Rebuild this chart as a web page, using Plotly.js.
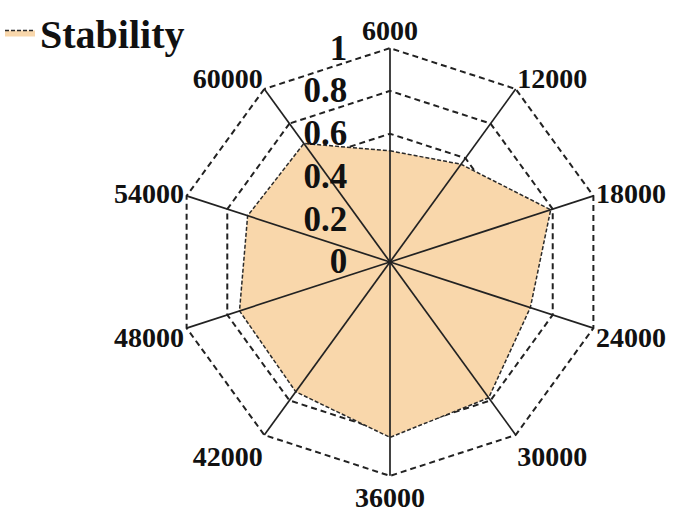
<!DOCTYPE html>
<html>
<head>
<meta charset="utf-8">
<script src="https://cdn.plot.ly/plotly-3.0.1.min.js"></script>
<style>
  html, body { margin: 0; padding: 0; background: #fff; }
  #chart { width: 685px; height: 519px; }
</style>
</head>
<body>
<div id="chart"></div>
<script>
// categories round the radar, clockwise from the top
var categories = ["6000", "12000", "18000", "24000", "30000", "36000", "42000", "48000", "54000", "60000"];
// stability value read for each category
var stability = [0.52, 0.565, 0.79, 0.69, 0.785, 0.82, 0.75, 0.74, 0.70, 0.685];
var radialTicks = [0, 0.2, 0.4, 0.6, 0.8, 1];
var radialTickText = ["0", "0.2", "0.4", "0.6", "0.8", "1"];

var serif = "Liberation Serif, Times New Roman, serif";

// closed polygon for the filled area
var trace = {
  type: "scatterpolar",
  r: stability.concat([stability[0]]),
  theta: categories.concat([categories[0]]),
  mode: "lines",
  fill: "toself",
  fillcolor: "#f9d7ab",
  line: {color: "#2a2a2a", width: 1.5, dash: "4px,2px"},
  name: "Stability"
};

// spokes drawn on top of the fill
var spokeR = [], spokeT = [];
categories.forEach(function (c) {
  spokeR.push(0, 1, null);
  spokeT.push(c, c, null);
});
var spokes = {
  type: "scatterpolar",
  r: spokeR,
  theta: spokeT,
  mode: "lines",
  line: {color: "#222", width: 1.7},
  showlegend: false,
  hoverinfo: "skip"
};

var layout = {
  width: 685,
  height: 519,
  margin: {l: 174, r: 79, t: 46, b: 41, autoexpand: false},
  paper_bgcolor: "#fff",
  showlegend: true,
  legend: {
    xref: "container", yref: "container",
    x: 0, y: 1.02, xanchor: "left", yanchor: "top",
    font: {family: serif, size: 40, weight: "bold", color: "#111"},
    bgcolor: "rgba(0,0,0,0)"
  },
  polar: {
    bgcolor: "#fff",
    gridshape: "linear",
    radialaxis: {
      range: [0, 1.01],
      angle: 90,
      side: "counterclockwise",
      tickangle: 90,
      tickvals: radialTicks,
      ticktext: radialTickText,
      ticks: "outside",
      ticklen: 30,
      tickcolor: "rgba(0,0,0,0)",
      tickfont: {family: serif, size: 35, weight: "bold", color: "#111"},
      showline: false,
      showgrid: true,
      gridcolor: "#222",
      gridwidth: 1.6,
      griddash: "6px,4px",
      layer: "above traces"
    },
    angularaxis: {
      type: "category",
      categoryarray: categories,
      rotation: 90,
      direction: "clockwise",
      showline: false,
      showgrid: false,
      ticks: "",
      tickfont: {family: serif, size: 28, weight: "bold", color: "#111"}
    }
  }
};

Plotly.newPlot("chart", [trace, spokes], layout, {displayModeBar: false});
</script>
</body>
</html>
